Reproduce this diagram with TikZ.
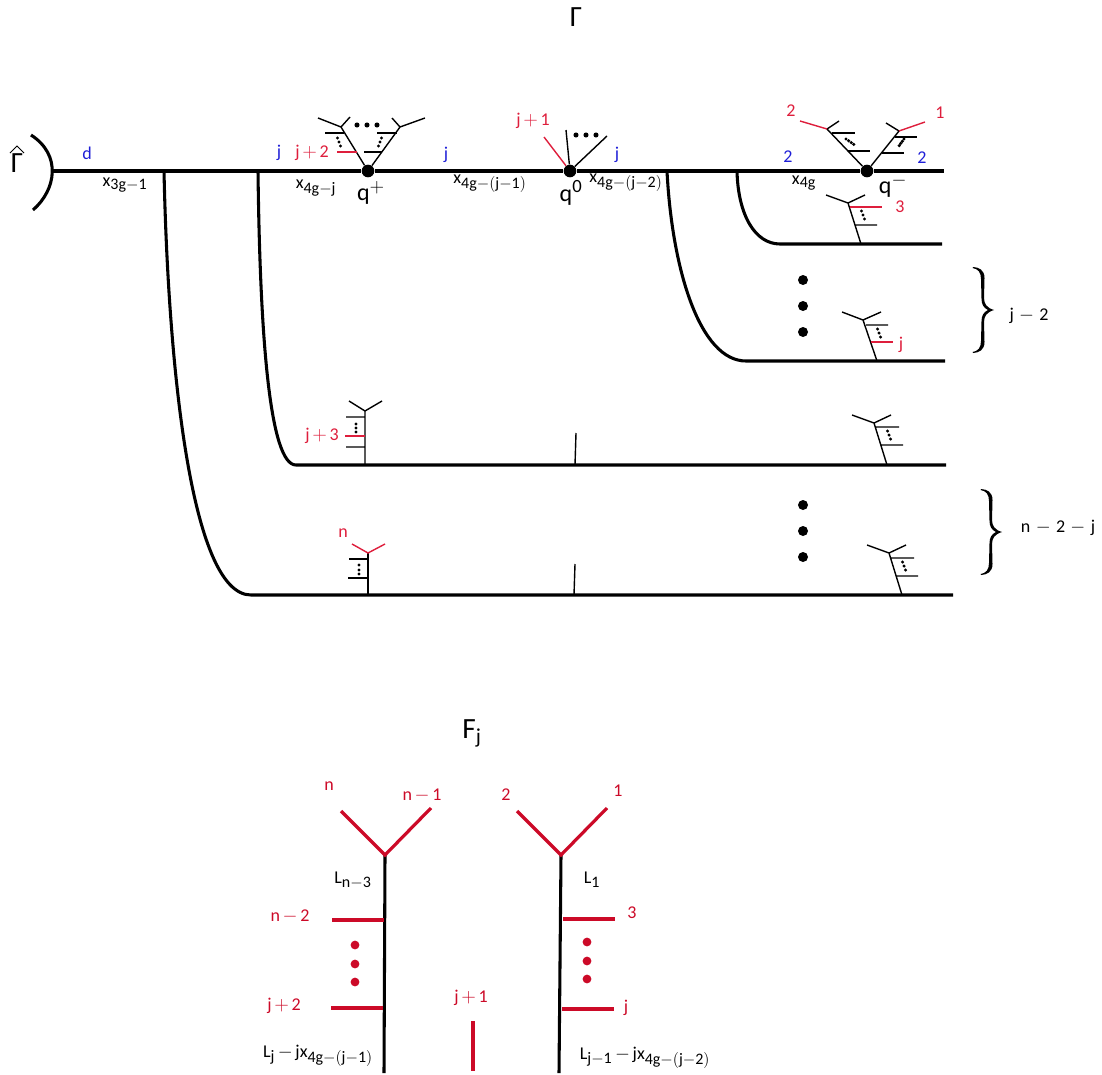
\documentclass[tikz,border=0pt]{standalone}
\usepackage{fontspec}
\setmainfont{Carlito}
\DeclareMathSizes{13.5}{13.5}{12}{9}
\DeclareMathSizes{18}{18}{14}{10}
\DeclareMathSizes{22}{22}{16}{12}
\definecolor{tred}{RGB}{222,30,60}
\definecolor{bred}{RGB}{204,10,40}
\definecolor{tblue}{RGB}{30,30,215}
\tikzset{
  x=0.75pt,y=-0.75pt,
  thick line/.style={line width=2.3pt,black},
  thin line/.style={line width=1.05pt,black},
  red thin/.style={line width=1.05pt,tred},
  red thick/.style={line width=2.4pt,bred},
  lab/.style={inner sep=0pt,font=\fontsize{13.5}{15}\selectfont,black},
  qlab/.style={lab,font=\fontsize{18}{20}\selectfont},
  biglab/.style={lab,font=\fontsize{22}{24}\selectfont},
  rlab/.style={lab,text=tred},
  rblab/.style={lab,text=bred},
  blab/.style={lab,text=tblue},
  vertexdot/.style={circle,fill=black,inner sep=0pt,minimum size=9.5pt},
  bigdot/.style={circle,fill=black,inner sep=0pt,minimum size=7.5pt},
  smalldot/.style={circle,fill=black,inner sep=0pt,minimum size=3.8pt},
  tinydot/.style={circle,fill=black,inner sep=0pt,minimum size=2.6pt},
  reddot/.style={circle,fill=bred,inner sep=0pt,minimum size=6.6pt},
  curly brace/.pic={
    \fill[black] (0,0) .. controls (6,0.3) and (11.5,3) .. (11.5,11)
      -- (11,31) .. controls (11,37) and (14,41) .. (21,43)
      .. controls (14,45) and (11,49) .. (11,55)
      -- (11.5,75) .. controls (11.5,83) and (6,85.7) .. (0,86)
      -- (-0.3,85) .. controls (5,84) and (8,81) .. (8,74)
      -- (8.5,54) .. controls (8.5,49) and (10.5,45) .. (15,43)
      .. controls (10.5,41) and (8.5,37) .. (8.5,32)
      -- (8,12) .. controls (8,5) and (5,2) .. (-0.3,1) -- cycle;
  },
}
\newcommand{\mm}[1]{$\medmuskip=2.5mu\mathrm{#1}$}
\newcommand{\mmw}[1]{$\medmuskip=5mu\mathrm{#1}$}
\newcommand{\tdots}[2]{\node[tinydot] at (#1-1.5,#2-4) {};\node[tinydot] at (#1,#2) {};\node[tinydot] at (#1+1.5,#2+4) {};}
\begin{document}
\begin{tikzpicture}
\useasboundingbox (0,0) rectangle (1102,1074);
% main line
\node[vertexdot] (qp) at (368,171) {};
\node[vertexdot] (qz) at (570,171) {};
\node[vertexdot] (qm) at (867,171) {};
\coordinate (m0) at (52,171);
\coordinate (m1) at (944,171);
\draw[thick line] (m0) -- (qp) -- (qz) -- (qm) -- (m1);
\coordinate (arcA) at (31,135);
\coordinate (arcB) at (33,210);
\draw[thick line] (arcA) .. controls (62,155) and (56,190) .. (arcB);
% branches
\coordinate (b1) at (164,171); \coordinate (b1c) at (251,595); \coordinate (b1e) at (953,595);
\coordinate (b2) at (258,171); \coordinate (b2c) at (296,465); \coordinate (b2e) at (946,465);
\coordinate (b3) at (667,171); \coordinate (b3c) at (746,361); \coordinate (b3e) at (945,361);
\coordinate (b4) at (737,171); \coordinate (b4c) at (780,244); \coordinate (b4e) at (942,244);
\draw[thick line] (b1) .. controls (168,360) and (190,595) .. (b1c) -- (b1e);
\draw[thick line] (b2) .. controls (260,340) and (270,465) .. (b2c) -- (b2e);
\draw[thick line] (b3) .. controls (672,270) and (700,361) .. (b3c) -- (b3e);
\draw[thick line] (b4) .. controls (738,215) and (755,244) .. (b4c) -- (b4e);
% q+ tree
\coordinate (pL) at (341,127); \coordinate (pR) at (400,127);
\draw[thin line] (qp) -- (pL) (318,118) -- (pL) -- (350,117);
\draw[thin line] (qp) -- (pR) (392,118) -- (pR) -- (425,118);
\draw[thin line] (325,133) -- (344,133) (364,152) -- (382,152) (377,133) -- (397,133);
\draw[red thin] (337,152) -- (357,152);
\tdots{339}{142}
\foreach \x in {380} {\node[tinydot] at (\x+1.5,138) {};\node[tinydot] at (\x,142) {};\node[tinydot] at (\x-1.5,146) {};}
\foreach \x in {357,367,377} \node[smalldot] at (\x,125) {};
% q0 tree
\coordinate (zA) at (544,137); \coordinate (zB) at (566,130); \coordinate (zC) at (607,136);
\draw[red thin] (qz) -- (zA);
\draw[thin line] (qz) -- (zB) (qz) -- (zC);
\foreach \x in {576,586,596} \node[smalldot] at (\x,135) {};
% q- tree
\coordinate (mL) at (827,129); \coordinate (mR) at (899,131);
\draw[thin line] (qm) -- (mL) -- (839,121) (qm) -- (mR) -- (886,123);
\draw[red thin] (800,121) -- (mL) (925,122) -- (mR);
\draw[thin line] (832,133) -- (855,133) (848,151) -- (870,151) (895,137) -- (917,137) (882,153) -- (904,153);
\foreach \p in {0,1,2,3} \node[tinydot] at (846+\p*2.6,139+\p*1.8) {};
\foreach \p in {0,1,2,3} \node[tinydot] at (904-\p*1.6,139+\p*2.2) {};
% branch 4 tree
\coordinate (t4b) at (861,244); \coordinate (t4t) at (848,203);
\draw[thin line] (t4b) -- (t4t) (826,195) -- (t4t) -- (865,195) (855,225) -- (877,225);
\draw[red thin] (850,207) -- (882,207);
\tdots{863}{215}
% branch 3 tree
\coordinate (t3b) at (877,361); \coordinate (t3t) at (863,320);
\draw[thin line] (t3b) -- (t3t) (842,312) -- (t3t) -- (881,312) (866,325) -- (888,325);
\draw[red thin] (871,342) -- (893,342);
\tdots{879}{333}
% branch 2 trees
\coordinate (t2b) at (887,465); \coordinate (t2t) at (874,423);
\draw[thin line] (t2b) -- (t2t) (852,415) -- (t2t) -- (891,415) (876,427) -- (899,427) (881,445) -- (903,445);
\tdots{889}{435}
\coordinate (l2b) at (365,465); \coordinate (l2t) at (365,411);
\draw[thin line] (l2b) -- (l2t) (349,401) -- (l2t) -- (382,401) (346,417) -- (365,417) (346,447) -- (365,447);
\draw[red thin] (345,436) -- (365,436);
\foreach \y in {424,428,432} \node[tinydot] at (356,\y) {};
\coordinate (s2b) at (575,465); \coordinate (s2t) at (576,433);
\draw[thin line] (s2b) -- (s2t);
% branch 1 trees
\coordinate (t1b) at (902,595); \coordinate (t1t) at (889,553);
\draw[thin line] (t1b) -- (t1t) (867,545) -- (t1t) -- (906,545) (891,558) -- (914,558) (896,576) -- (918,576);
\tdots{904}{566}
\coordinate (l1b) at (368,595); \coordinate (l1t) at (368,553);
\draw[thin line] (l1b) -- (l1t) (349,559) -- (368,559) (348,578) -- (368,578);
\draw[red thin] (352,544) -- (l1t) -- (385,544);
\foreach \y in {565,570,574} \node[tinydot] at (359,\y) {};
\coordinate (s1b) at (574,595); \coordinate (s1t) at (575,564);
\draw[thin line] (s1b) -- (s1t);
% big dots
\foreach \y in {280,306,332,505,531,557} \node[bigdot] at (803,\y) {};
% braces
\pic at (973,267) {curly brace};
\pic at (981,489) {curly brace};
% labels top
\node[biglab] (gam) at (576,17) {Γ};
\node[biglab] (gamh) at (17,163) {Γ};
\coordinate (hatA) at (10,153); \coordinate (hatB) at (17,146); \coordinate (hatC) at (24,153);
\draw[line width=0.7pt] (hatA) -- (hatB) -- (hatC);
\node[blab] (ld) at (87,153) {\mm{d}};
\node[lab] (x1) at (125,185) {\mm{x_{3g-1}}};
\node[blab] (lj1) at (279,153) {\mm{j}};
\node[rlab] (ljp2) at (312,153) {\mm{j+2}};
\node[lab] (x2) at (316,188) {\mm{x_{4g-j}}};
\node[qlab] (lqp) at (371,193) {\mm{q^{+}}};
\node[blab] (lj2) at (446,155) {\mm{j}};
\node[lab] (x3) at (490,184) {\mm{x_{4g-(j-1)}}};
\node[rlab] (ljp1) at (533,121) {\mm{j+1}};
\node[qlab] (lq0) at (571,193) {\mm{q^{0}}};
\node[lab] (x4) at (626,183) {\mm{x_{4g-(j-2)}}};
\node[blab] (lj3) at (617,155) {\mm{j}};
\node[blab] (l21) at (788,157) {\mm{2}};
\node[lab] (x5) at (804,183) {\mm{x_{4g}}};
\node[blab] (l22) at (922,158) {\mm{2}};
\node[qlab] (lqm) at (893,186) {\mm{q^{-}}};
\node[rlab] (r2) at (791,111) {\mm{2}};
\node[rlab] (r1) at (940,113) {\mm{1}};
\node[rlab] (r3) at (900,207) {\mm{3}};
\node[rlab] (rj) at (901,345) {\mm{j}};
\node[lab] (b1l) at (1029,316) {\mmw{j-2}};
\node[rlab] (ljp3) at (322,436) {\mm{j+3}};
\node[rlab] (rn) at (343,533) {\mm{n}};
\node[lab] (b2l) at (1058,528) {\mmw{n-2-j}};
% lower figure
\node[biglab] (fj) at (472,733) {\mm{F_j}};
\coordinate (lt) at (385,855); \coordinate (lb) at (384,1073);
\coordinate (rt) at (561,855); \coordinate (rb) at (559,1073);
\draw[thick line] (lt) -- (lb);
\draw[thick line] (rt) -- (rb);
\coordinate (ya) at (341,811); \coordinate (yb) at (431,808);
\coordinate (yc) at (517,811); \coordinate (yd) at (607,808);
\draw[red thick] (ya) -- (lt) -- (yb);
\draw[red thick] (yc) -- (rt) -- (yd);
\draw[red thick] (332,920) -- (384,920) (331,1008) -- (383,1008);
\draw[red thick] (563,919) -- (615,919) (562,1009) -- (614,1009);
\coordinate (ma) at (473,1021); \coordinate (mb) at (473,1071);
\draw[red thick] (ma) -- (mb);
\foreach \y in {945,964,982} \node[reddot] at (355,\y) {};
\foreach \y in {942,961,979} \node[reddot] at (587,\y) {};
\node[rblab] (fn) at (329,786) {\mm{n}};
\node[rblab] (fn1) at (422,795) {\mm{n-1}};
\node[rblab] (f2) at (506,795) {\mm{2}};
\node[rblab] (f1) at (618,791) {\mm{1}};
\node[lab] (fL1) at (353,880) {\mm{L_{n-3}}};
\node[lab] (fL2) at (592,880) {\mm{L_1}};
\node[rblab] (fn2) at (290,916) {\mm{n-2}};
\node[rblab] (f3) at (632,913) {\mm{3}};
\node[rblab] (fj2) at (284,1006) {\mm{j+2}};
\node[rblab] (fj1) at (471,998) {\mm{j+1}};
\node[rblab] (fj0) at (626,1008) {\mm{j}};
\node[lab] (fL3) at (318,1056) {\mm{L_j-jx_{4g-(j-1)}}};
\node[lab] (fL4) at (645,1058) {\mm{L_{j-1}-jx_{4g-(j-2)}}};
\end{tikzpicture}
\end{document}
